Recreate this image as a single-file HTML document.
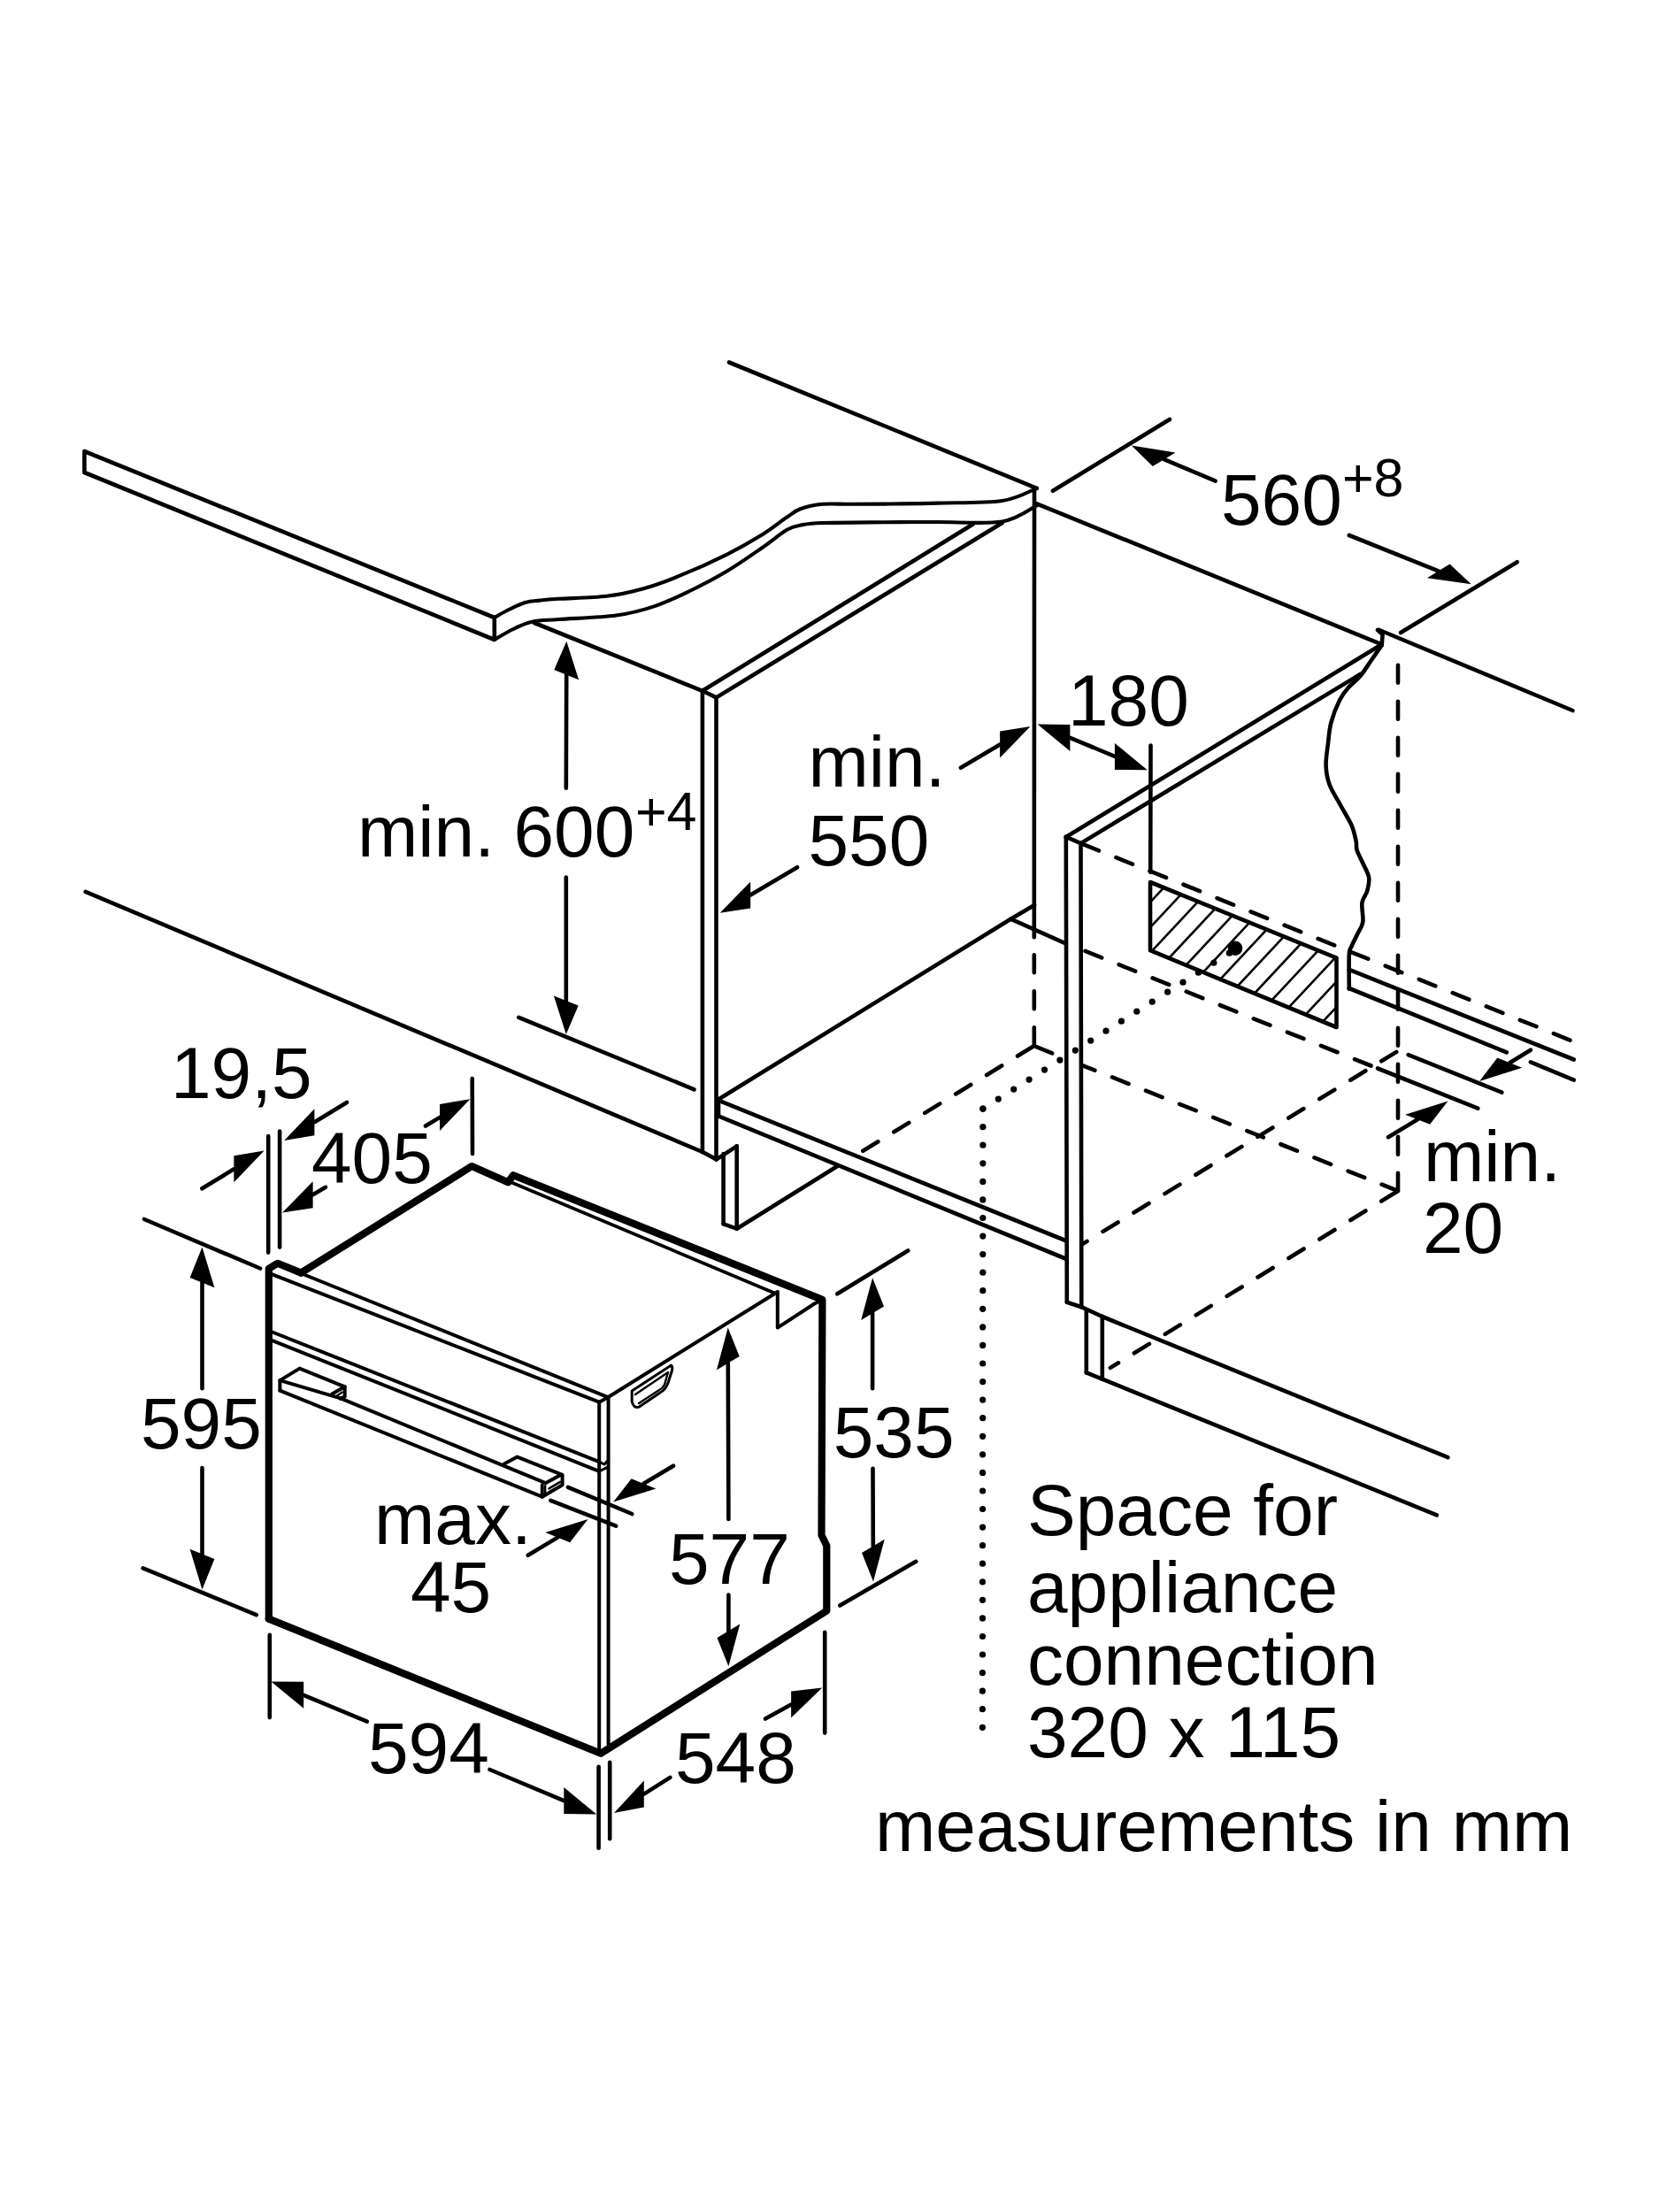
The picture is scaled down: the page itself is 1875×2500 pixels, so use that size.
<!DOCTYPE html>
<html><head><meta charset="utf-8"><style>
html,body{margin:0;padding:0;background:#fff;}
svg{display:block;}
svg text{font-family:"Liberation Sans",sans-serif;fill:#000;stroke:none;}
</style></head><body>
<svg width="1875" height="2500" viewBox="0 0 1875 2500">
<rect width="1875" height="2500" fill="#fff"/>
<g fill="none" stroke="#000" stroke-linecap="round" stroke-linejoin="round">
<polyline points="95.4,534 95.4,510 558.8,698 558.8,723 95.4,534" stroke-width="4.6" stroke-linejoin="round"/>
<path d="M558.8,698 C561.5,696.5 569.2,691.8 575,689 C580.8,686.2 587.6,682.7 593.4,681 C599.2,679.3 603.7,679.3 610,678.6 C616.3,677.9 618.8,677.6 631.4,676.8 C644,676 669.8,675.7 685.6,673.8 C701.4,671.9 712.7,669.3 726.3,665.5 C739.9,661.7 751.2,657.7 767,651.2 C782.8,644.8 805.4,634.7 821.2,626.8 C837,618.9 850.6,611 861.9,604 C873.2,597 881.8,589.6 889,584.8 C896.2,580 898.2,577.5 905,575 C911.8,572.5 920.5,570.7 929.7,569.8 C938.9,568.9 948.3,569.8 960,569.8 C971.7,569.8 983.3,569.8 1000,569.6 C1016.7,569.4 1037.9,569.2 1060,568.6 C1082.1,568 1114,568.8 1132.6,566 C1151.2,563.2 1165.3,554.2 1171.8,551.8" stroke-width="4.1" fill="none"/>
<path d="M558.8,723 C562.3,721 572.9,714.4 580,711 C587.1,707.6 592.9,704.5 601.5,702.7 C610.1,700.9 615.6,701.2 631.4,700 C647.2,698.8 678.4,698 696.5,695.5 C714.6,693 725.9,689.8 739.9,685.1 C753.9,680.4 767,674 780.5,667.5 C794,661 807.6,653.9 821.2,645.8 C834.8,637.7 850.6,626.5 861.9,618.7 C873.2,610.9 881.8,603.2 889,599 C896.2,594.8 898.2,594.8 905,593.5 C911.8,592.2 913.9,591.5 929.7,591 C945.5,590.5 978.3,590.4 1000,590.2 C1021.7,590 1037.9,590.1 1060,590 C1082.1,589.9 1114,592.6 1132.6,589.5 C1151.2,586.4 1165.3,574.4 1171.8,571.4" stroke-width="4.1" fill="none"/>
<line x1="824" y1="409.5" x2="1171.8" y2="551.8" stroke-width="4.6"/>
<line x1="1558.8" y1="712" x2="1777.4" y2="803" stroke-width="4.6"/>
<line x1="1171.8" y1="569.3" x2="1558.8" y2="727.1" stroke-width="4.6"/>
<polyline points="1556.9,712 1562.6,717 1561.7,729.2" stroke-width="4.6" stroke-linejoin="round"/>
<line x1="1169" y1="551.8" x2="1168.8" y2="1059.2" stroke-width="4.6"/>
<line x1="1168.8" y1="1059.2" x2="1168.8" y2="1182" stroke-width="4.6" stroke-dasharray="20 21" stroke-dashoffset="-20"/>
<line x1="793.9" y1="780.8" x2="793.9" y2="1302.3" stroke-width="4.6"/>
<line x1="809.5" y1="788.4" x2="809.5" y2="1310.4" stroke-width="4.6"/>
<line x1="793.9" y1="780.8" x2="809.5" y2="788.4" stroke-width="4.6"/>
<line x1="793.9" y1="780.8" x2="1099.5" y2="592.5" stroke-width="4.6"/>
<line x1="809.5" y1="788.4" x2="1132.6" y2="591" stroke-width="4.6"/>
<line x1="604" y1="704" x2="793.9" y2="780.8" stroke-width="4.6"/>
<polyline points="96.7,1007.9 794.1,1302 809.8,1310.4 832.7,1295.3" stroke-width="4.6" stroke-linejoin="round"/>
<line x1="817.6" y1="1304" x2="817.6" y2="1383.3" stroke-width="4.6"/>
<polyline points="832.7,1295.3 832.7,1388.7 817.6,1383.3" stroke-width="4.6" stroke-linejoin="round"/>
<line x1="832.7" y1="1388.7" x2="946" y2="1318.2" stroke-width="4.6"/>
<line x1="586.2" y1="1149.9" x2="784.5" y2="1231.3" stroke-width="4.6"/>
<polyline points="812,1242.5 1142.3,1038.7 1169,1023" stroke-width="4.6" stroke-linejoin="round"/>
<line x1="1142.3" y1="1038.7" x2="1204.5" y2="1066.4" stroke-width="4.6"/>
<line x1="812" y1="1243.7" x2="1205.4" y2="1402.5" stroke-width="4.6"/>
<line x1="812" y1="1261.4" x2="1205.4" y2="1423" stroke-width="4.6"/>
<line x1="812" y1="1242" x2="812" y2="1262" stroke-width="4.6"/>
<line x1="1204.8" y1="945.9" x2="1205.8" y2="1471.8" stroke-width="4.6"/>
<line x1="1221.5" y1="953.1" x2="1222.3" y2="1477.2" stroke-width="4.6"/>
<line x1="1204.8" y1="945.9" x2="1221.5" y2="953.1" stroke-width="4.6"/>
<line x1="1204.8" y1="946" x2="1558.8" y2="730" stroke-width="4.6"/>
<line x1="1221.5" y1="953.1" x2="1537.7" y2="761.8" stroke-width="4.6"/>
<line x1="1205.8" y1="1471.8" x2="1222.3" y2="1477.2" stroke-width="4.6"/>
<polyline points="1222.3,1477.2 1245.8,1488" stroke-width="4.6" stroke-linejoin="round"/>
<line x1="1227.8" y1="1480.8" x2="1227.8" y2="1551.4" stroke-width="4.6"/>
<line x1="1245.8" y1="1488" x2="1245.8" y2="1558.6" stroke-width="4.6"/>
<line x1="1227.8" y1="1551.4" x2="1245.8" y2="1558.6" stroke-width="4.6"/>
<line x1="1245.8" y1="1488" x2="1636.4" y2="1647.2" stroke-width="4.6"/>
<line x1="1245.8" y1="1558.6" x2="1623.8" y2="1712.3" stroke-width="4.6"/>
<path d="M1561.7,729.2 C1559.8,732 1554,740.2 1550,746 C1546,751.8 1541.7,758.9 1537.4,764.1 C1533.1,769.3 1527.9,772.5 1524,777 C1520.1,781.5 1517.4,784.7 1514.1,791.3 C1510.8,797.9 1506.6,808.5 1504.4,816.6 C1502.2,824.7 1502,831.9 1501,840 C1500,848.1 1498.3,857.4 1498.6,865.1 C1498.8,872.9 1499.8,879 1502.5,886.5 C1505.2,894 1510.8,902.2 1515,910 C1519.2,917.8 1524.8,926.3 1527.7,933.1 C1530.6,939.9 1531.6,946.1 1532.6,950.6 C1533.6,955.1 1532.3,956.2 1533.5,960.3 C1534.7,964.4 1537.7,969.8 1540,975 C1542.3,980.2 1546.2,986.1 1547.1,991.4 C1548,996.7 1546.5,1002.1 1545.2,1007 C1543.9,1011.9 1540.2,1014.8 1539.4,1020.6 C1538.6,1026.4 1541.2,1036.1 1540.3,1042 C1539.4,1047.9 1536.1,1051.5 1534,1056 C1531.9,1060.5 1529.2,1065.3 1527.7,1069.1 C1526.2,1072.9 1525.3,1070.8 1524.8,1078.9 C1524.3,1087 1524.8,1111.2 1524.8,1117.7" stroke-width="4.6" fill="none"/>
<line x1="1524.8" y1="1095.9" x2="1778.8" y2="1197.5" stroke-width="4.6"/>
<line x1="1524.8" y1="1117" x2="1702.8" y2="1189.4" stroke-width="4.6"/>
<line x1="1729.9" y1="1200.3" x2="1778.8" y2="1220.7" stroke-width="4.6"/>
<line x1="1221.5" y1="953.1" x2="1775.1" y2="1175.8" stroke-width="4.6" stroke-dasharray="20 21" stroke-dashoffset="-2"/>
<line x1="1224.7" y1="1074.2" x2="1557" y2="1207.5" stroke-width="4.6" stroke-dasharray="20 21" stroke-dashoffset="-2"/>
<line x1="1557" y1="1207.5" x2="1670.3" y2="1252.7" stroke-width="4.6"/>
<line x1="1591.6" y1="1192.1" x2="1697.4" y2="1234.6" stroke-width="4.6"/>
<line x1="1580" y1="749.7" x2="1580" y2="1346" stroke-width="4.6" stroke-dasharray="20 21" stroke-dashoffset="-2"/>
<line x1="1168.8" y1="1182" x2="975" y2="1301" stroke-width="4.6" stroke-dasharray="20 21" stroke-dashoffset="-2"/>
<line x1="1168.8" y1="1182" x2="1205" y2="1196.8" stroke-width="4.6" stroke-dasharray="20 21" stroke-dashoffset="-2"/>
<line x1="1222.5" y1="1203.8" x2="1580" y2="1346" stroke-width="4.6" stroke-dasharray="20 21" stroke-dashoffset="4"/>
<line x1="1580" y1="1346" x2="1254.9" y2="1545.9" stroke-width="4.6" stroke-dasharray="20 21" stroke-dashoffset="-2"/>
<line x1="1580" y1="1187.8" x2="1222.3" y2="1406.7" stroke-width="4.6" stroke-dasharray="20 21" stroke-dashoffset="-2"/>
<line x1="1300.5" y1="842.6" x2="1300.2" y2="985.7" stroke-width="4.6"/>
<polygon points="1300,997 1510.5,1082.6 1510.5,1161 1300,1074.2" stroke-width="4.6" stroke-linejoin="round"/>
<clipPath id="hb"><polygon points="1300,997 1510.5,1082.6 1510.5,1161 1300,1074.2"/></clipPath>
<path d="M1106.0,1083.9 L1326.0,848.5 M1125.4,1091.8 L1345.4,856.4 M1144.8,1099.7 L1364.8,864.3 M1164.2,1107.6 L1384.2,872.2 M1183.6,1115.5 L1403.6,880.1 M1203.0,1123.4 L1423.0,888.0 M1222.4,1131.2 L1442.4,895.8 M1241.8,1139.1 L1461.8,903.7 M1261.2,1147.0 L1481.2,911.6 M1280.6,1154.9 L1500.6,919.5 M1300.0,1162.8 L1520.0,927.4 M1319.4,1170.7 L1539.4,935.3 M1338.8,1178.6 L1558.8,943.2 M1358.2,1186.5 L1578.2,951.1 M1377.6,1194.4 L1597.6,959.0 M1397.0,1202.3 L1617.0,966.9 M1416.4,1210.1 L1636.4,974.7 M1435.8,1218.0 L1655.8,982.6 M1455.2,1225.9 L1675.2,990.5 M1474.6,1233.8 L1694.6,998.4" stroke-width="2.6" clip-path="url(#hb)"/>
<circle cx="1396.1" cy="1071.8" r="8.2" fill="#000" stroke="none"/>
<circle cx="1389.5" cy="1077" r="3.8" fill="#000" stroke="none"/>
<circle cx="1371.8" cy="1088.2" r="3.6" fill="#000" stroke="none"/>
<circle cx="1354.4" cy="1099.2" r="3.6" fill="#000" stroke="none"/>
<circle cx="1337" cy="1110.2" r="3.6" fill="#000" stroke="none"/>
<circle cx="1319.6" cy="1121.2" r="3.6" fill="#000" stroke="none"/>
<circle cx="1302.2" cy="1132.2" r="3.6" fill="#000" stroke="none"/>
<circle cx="1284.8" cy="1143.2" r="3.6" fill="#000" stroke="none"/>
<circle cx="1267.4" cy="1154.2" r="3.6" fill="#000" stroke="none"/>
<circle cx="1250" cy="1165.2" r="3.6" fill="#000" stroke="none"/>
<circle cx="1232.7" cy="1176.1" r="3.6" fill="#000" stroke="none"/>
<circle cx="1215.3" cy="1187.1" r="3.6" fill="#000" stroke="none"/>
<circle cx="1197.9" cy="1198.1" r="3.6" fill="#000" stroke="none"/>
<circle cx="1180.5" cy="1209.1" r="3.6" fill="#000" stroke="none"/>
<circle cx="1163.1" cy="1220.1" r="3.6" fill="#000" stroke="none"/>
<circle cx="1145.7" cy="1231.1" r="3.6" fill="#000" stroke="none"/>
<circle cx="1128.3" cy="1242.1" r="3.6" fill="#000" stroke="none"/>
<circle cx="1110.9" cy="1253.1" r="3.6" fill="#000" stroke="none"/>
<circle cx="1110.9" cy="1253.1" r="3.6" fill="#000" stroke="none"/>
<circle cx="1110.9" cy="1273.7" r="3.6" fill="#000" stroke="none"/>
<circle cx="1110.9" cy="1294.2" r="3.6" fill="#000" stroke="none"/>
<circle cx="1110.9" cy="1314.8" r="3.6" fill="#000" stroke="none"/>
<circle cx="1110.8" cy="1335.4" r="3.6" fill="#000" stroke="none"/>
<circle cx="1110.8" cy="1355.9" r="3.6" fill="#000" stroke="none"/>
<circle cx="1110.8" cy="1376.5" r="3.6" fill="#000" stroke="none"/>
<circle cx="1110.8" cy="1397.1" r="3.6" fill="#000" stroke="none"/>
<circle cx="1110.8" cy="1417.6" r="3.6" fill="#000" stroke="none"/>
<circle cx="1110.8" cy="1438.2" r="3.6" fill="#000" stroke="none"/>
<circle cx="1110.8" cy="1458.7" r="3.6" fill="#000" stroke="none"/>
<circle cx="1110.7" cy="1479.3" r="3.6" fill="#000" stroke="none"/>
<circle cx="1110.7" cy="1499.9" r="3.6" fill="#000" stroke="none"/>
<circle cx="1110.7" cy="1520.4" r="3.6" fill="#000" stroke="none"/>
<circle cx="1110.7" cy="1541" r="3.6" fill="#000" stroke="none"/>
<circle cx="1110.7" cy="1561.6" r="3.6" fill="#000" stroke="none"/>
<circle cx="1110.7" cy="1582.1" r="3.6" fill="#000" stroke="none"/>
<circle cx="1110.7" cy="1602.7" r="3.6" fill="#000" stroke="none"/>
<circle cx="1110.6" cy="1623.3" r="3.6" fill="#000" stroke="none"/>
<circle cx="1110.6" cy="1643.8" r="3.6" fill="#000" stroke="none"/>
<circle cx="1110.6" cy="1664.4" r="3.6" fill="#000" stroke="none"/>
<circle cx="1110.6" cy="1685" r="3.6" fill="#000" stroke="none"/>
<circle cx="1110.6" cy="1705.5" r="3.6" fill="#000" stroke="none"/>
<circle cx="1110.6" cy="1726.1" r="3.6" fill="#000" stroke="none"/>
<circle cx="1110.5" cy="1746.7" r="3.6" fill="#000" stroke="none"/>
<circle cx="1110.5" cy="1767.2" r="3.6" fill="#000" stroke="none"/>
<circle cx="1110.5" cy="1787.8" r="3.6" fill="#000" stroke="none"/>
<circle cx="1110.5" cy="1808.3" r="3.6" fill="#000" stroke="none"/>
<circle cx="1110.5" cy="1828.9" r="3.6" fill="#000" stroke="none"/>
<circle cx="1110.5" cy="1849.5" r="3.6" fill="#000" stroke="none"/>
<circle cx="1110.5" cy="1870" r="3.6" fill="#000" stroke="none"/>
<circle cx="1110.4" cy="1890.6" r="3.6" fill="#000" stroke="none"/>
<circle cx="1110.4" cy="1911.2" r="3.6" fill="#000" stroke="none"/>
<circle cx="1110.4" cy="1931.7" r="3.6" fill="#000" stroke="none"/>
<circle cx="1110.4" cy="1952.3" r="3.6" fill="#000" stroke="none"/>
<line x1="1189.9" y1="554.8" x2="1321.9" y2="474" stroke-width="4.6"/>
<line x1="1583" y1="715" x2="1714.7" y2="635.2" stroke-width="4.6"/>
<line x1="1373.7" y1="543.7" x2="1315.6" y2="519.2" stroke-width="4.6"/>
<polygon points="1278.8,503.6 1328.5,511.4 1302.8,527" fill="#000" stroke="none"/>
<line x1="1524.8" y1="605" x2="1625.7" y2="645.3" stroke-width="4.6"/>
<polygon points="1662.8,660.2 1638.5,637.5 1612.9,653.2" fill="#000" stroke="none"/>
<line x1="1235" y1="844.5" x2="1209.4" y2="833.9" stroke-width="4.6"/>
<polygon points="1172.5,818.5 1209.4,848.9 1209.4,818.9" fill="#000" stroke="none"/>
<line x1="1235" y1="844.5" x2="1259.9" y2="854.9" stroke-width="4.6"/>
<polygon points="1296.8,870.3 1259.9,869.9 1259.9,839.9" fill="#000" stroke="none"/>
<line x1="1085.8" y1="867.7" x2="1130.1" y2="841.4" stroke-width="4.6"/>
<polygon points="1164.5,821 1130.1,856.4 1130.1,826.4" fill="#000" stroke="none"/>
<line x1="901.1" y1="980.2" x2="848.2" y2="1011.4" stroke-width="4.6"/>
<polygon points="813.7,1031.7 848.2,1026.4 848.2,996.4" fill="#000" stroke="none"/>
<line x1="639.8" y1="890.7" x2="640.2" y2="762.7" stroke-width="4.6"/>
<polygon points="640.3,724.7 654.1,768.3 626.3,757.1" fill="#000" stroke="none"/>
<line x1="639.8" y1="991.6" x2="639.8" y2="1131" stroke-width="4.6"/>
<polygon points="639.8,1169 653.7,1136.6 625.9,1125.4" fill="#000" stroke="none"/>
<line x1="1729.9" y1="1186.7" x2="1706.2" y2="1201.2" stroke-width="4.6"/>
<polygon points="1672.1,1222 1720.2,1206.7 1692.3,1195.6" fill="#000" stroke="none"/>
<line x1="1569" y1="1285.2" x2="1602.1" y2="1265.2" stroke-width="4.6"/>
<polygon points="1636.4,1244.6 1616.1,1270.8 1588.2,1259.7" fill="#000" stroke="none"/>
<polyline points="303.8,1829.6 303.8,1433.8 313.8,1427.8 340.3,1438.6" stroke-width="8.2" stroke-linejoin="round"/>
<polyline points="340.3,1438.6 533.2,1318.1 574.2,1336.2 580.1,1328.2 929.4,1468.9 928.5,1735 934.3,1747.1 934.3,1820.6 679,1981.8 303.8,1829.6" stroke-width="8.2" stroke-linejoin="round"/>
<line x1="577.8" y1="1336.2" x2="876.1" y2="1461.7" stroke-width="3.8"/>
<polyline points="687.1,1579.2 876.1,1461.7 878.8,1459.9 878.8,1500.6 920.4,1473.5 929.4,1468.9" stroke-width="4" stroke-linejoin="round"/>
<line x1="677.2" y1="1584.7" x2="677.2" y2="1981.8" stroke-width="4"/>
<line x1="687.6" y1="1579.2" x2="687.6" y2="1971.3" stroke-width="4"/>
<line x1="313.8" y1="1428.5" x2="687.1" y2="1579.2" stroke-width="4"/>
<line x1="306.5" y1="1439.8" x2="677.2" y2="1584.7" stroke-width="4"/>
<polyline points="677.2,1584.7 687.1,1579.2" stroke-width="4" stroke-linejoin="round"/>
<line x1="306.5" y1="1505" x2="677.2" y2="1652.2" stroke-width="4"/>
<line x1="306.5" y1="1514.6" x2="677.2" y2="1662.8" stroke-width="4"/>
<polyline points="677.2,1652.2 683,1655 687.6,1650" stroke-width="3" stroke-linejoin="round"/>
<polyline points="677.2,1662.8 683,1660 687.6,1658" stroke-width="3" stroke-linejoin="round"/>
<polyline points="316.4,1571.6 316.4,1560.1 338.6,1546.6 389.7,1567.3 389.7,1578.4 384.9,1580.8" stroke-width="4" stroke-linejoin="round"/>
<polyline points="316.4,1560.1 384.9,1580.3 615.4,1675.7" stroke-width="4" stroke-linejoin="round"/>
<line x1="316.4" y1="1571.6" x2="612.8" y2="1691.7" stroke-width="4"/>
<line x1="375.2" y1="1575.5" x2="389.7" y2="1567.3" stroke-width="4"/>
<line x1="380" y1="1577.9" x2="386.8" y2="1573.6" stroke-width="2.4"/>
<polyline points="569.8,1654.6 584.6,1646.6 635.6,1666.8 635.6,1678.2 612.8,1691.7 612.8,1678.2" stroke-width="4" stroke-linejoin="round"/>
<line x1="617" y1="1676.1" x2="633.1" y2="1667.3" stroke-width="4"/>
<line x1="616.2" y1="1679.1" x2="616.2" y2="1687.5" stroke-width="2.4"/>
<line x1="620.4" y1="1682.4" x2="633.1" y2="1674.9" stroke-width="2.4"/>
<path d="M714.2,1572 L758.6,1543.1 Q760.5,1545 759.5,1549 L755,1563 Q752,1571 746,1574 L722.4,1590.1 Q716,1592 714.2,1584 Z" stroke-width="3" fill="none"/>
<path d="M718,1576 L755,1551 L751,1565 Q749,1569 745,1571 L722,1586" stroke-width="2.4" fill="none"/>
<line x1="303.2" y1="1284" x2="303.2" y2="1415.6" stroke-width="4.6"/>
<line x1="316.1" y1="1278.5" x2="316.1" y2="1409.6" stroke-width="4.6"/>
<line x1="533.7" y1="1219" x2="534" y2="1304" stroke-width="4.6"/>
<line x1="228.4" y1="1343.3" x2="264.4" y2="1321.3" stroke-width="4.6"/>
<polygon points="298.6,1300.5 264.4,1336.3 264.4,1306.3" fill="#000" stroke="none"/>
<line x1="392" y1="1246" x2="355.4" y2="1268.2" stroke-width="4.6"/>
<polygon points="321.2,1289 355.4,1283.2 355.4,1253.2" fill="#000" stroke="none"/>
<line x1="368" y1="1341.8" x2="353.6" y2="1350.2" stroke-width="4.6"/>
<polygon points="319.1,1370.4 353.6,1365.2 353.6,1335.2" fill="#000" stroke="none"/>
<line x1="481" y1="1272.5" x2="497" y2="1262.9" stroke-width="4.6"/>
<polygon points="531.3,1242.3 497,1277.9 497,1247.9" fill="#000" stroke="none"/>
<line x1="163" y1="1378" x2="294" y2="1433.5" stroke-width="4.6"/>
<line x1="161.6" y1="1772.3" x2="289.7" y2="1825.1" stroke-width="4.6"/>
<line x1="228.5" y1="1569.3" x2="228.5" y2="1449.6" stroke-width="4.6"/>
<polygon points="228.5,1409.6 242.4,1455.2 214.6,1444" fill="#000" stroke="none"/>
<line x1="228.5" y1="1659.1" x2="228.5" y2="1756.4" stroke-width="4.6"/>
<polygon points="228.5,1796.4 242.4,1762 214.6,1750.8" fill="#000" stroke="none"/>
<line x1="304.8" y1="1847.7" x2="304.8" y2="1941.1" stroke-width="4.6"/>
<line x1="414.8" y1="1945.6" x2="343.2" y2="1915.8" stroke-width="4.6"/>
<polygon points="306.3,1900.4 343.2,1930.8 343.2,1900.8" fill="#000" stroke="none"/>
<line x1="553.5" y1="2000" x2="637.3" y2="2035.1" stroke-width="4.6"/>
<polygon points="674.2,2050.5 637.3,2050.1 637.3,2020.1" fill="#000" stroke="none"/>
<line x1="676.6" y1="1996.9" x2="676.6" y2="2088.8" stroke-width="4.6"/>
<line x1="689.2" y1="1991.7" x2="689.2" y2="2078.2" stroke-width="4.6"/>
<line x1="757.4" y1="2008.9" x2="727.8" y2="2027.6" stroke-width="4.6"/>
<polygon points="694,2049 727.8,2042.6 727.8,2012.6" fill="#000" stroke="none"/>
<line x1="865" y1="1942.6" x2="894.1" y2="1926.6" stroke-width="4.6"/>
<polygon points="929.2,1907.4 894.1,1941.6 894.1,1911.6" fill="#000" stroke="none"/>
<line x1="932.2" y1="1844.7" x2="932.2" y2="1958.6" stroke-width="4.6"/>
<line x1="823.4" y1="1717" x2="822.8" y2="1540.6" stroke-width="4.6"/>
<polygon points="822.7,1500.6 835.7,1532.9 810,1548.3" fill="#000" stroke="none"/>
<line x1="823.4" y1="1802.5" x2="823.4" y2="1843.2" stroke-width="4.6"/>
<polygon points="823.4,1883.2 836.3,1835.5 810.5,1850.9" fill="#000" stroke="none"/>
<line x1="946.3" y1="1462.3" x2="1026.2" y2="1413.5" stroke-width="4.6"/>
<line x1="949.3" y1="1814.5" x2="1035.2" y2="1764.8" stroke-width="4.6"/>
<line x1="986.1" y1="1569.3" x2="986.1" y2="1484.3" stroke-width="4.6"/>
<polygon points="986.1,1444.3 999,1476.6 973.2,1492" fill="#000" stroke="none"/>
<line x1="986.5" y1="1659.7" x2="986.8" y2="1747.4" stroke-width="4.6"/>
<polygon points="987,1787.4 999.7,1739.7 974,1755.1" fill="#000" stroke="none"/>
<line x1="641.9" y1="1680.8" x2="714.3" y2="1711" stroke-width="4.6"/>
<line x1="622.3" y1="1695.9" x2="696.2" y2="1724.6" stroke-width="4.6"/>
<line x1="761" y1="1656.7" x2="727.5" y2="1676.8" stroke-width="4.6"/>
<polygon points="693.2,1697.4 741.4,1682.4 713.6,1671.2" fill="#000" stroke="none"/>
<line x1="596.7" y1="1757.7" x2="630.2" y2="1737.6" stroke-width="4.6"/>
<polygon points="664.5,1717 644.1,1743.2 616.3,1732" fill="#000" stroke="none"/>
<text x="404" y="968" font-size="82" text-anchor="start">min.</text>
<text x="580.5" y="968" font-size="82" text-anchor="start">600</text>
<text x="718" y="937.5" font-size="61" text-anchor="start">+4</text>
<text x="913.5" y="888.5" font-size="82" text-anchor="start">min.</text>
<text x="913.5" y="977.5" font-size="82" text-anchor="start">550</text>
<text x="1207" y="820" font-size="82" text-anchor="start">180</text>
<text x="1380" y="593" font-size="82" text-anchor="start">560</text>
<text x="1517" y="561" font-size="61" text-anchor="start">+8</text>
<text x="193" y="1240.5" font-size="82" text-anchor="start">19,5</text>
<text x="352" y="1337" font-size="82" text-anchor="start">405</text>
<text x="159" y="1636.5" font-size="82" text-anchor="start">595</text>
<text x="423" y="1745" font-size="82" text-anchor="start">max.</text>
<text x="464" y="1821.5" font-size="82" text-anchor="start">45</text>
<text x="756" y="1790" font-size="82" text-anchor="start">577</text>
<text x="941.7" y="1647" font-size="82" text-anchor="start">535</text>
<text x="416" y="2004" font-size="82" text-anchor="start">594</text>
<text x="763" y="2014.5" font-size="82" text-anchor="start">548</text>
<text x="1609" y="1334.5" font-size="82" text-anchor="start">min.</text>
<text x="1608" y="1416" font-size="82" text-anchor="start">20</text>
<text x="1161" y="1734.5" font-size="82" text-anchor="start">Space for</text>
<text x="1161" y="1821.5" font-size="82" text-anchor="start">appliance</text>
<text x="1161" y="1903.5" font-size="82" text-anchor="start">connection</text>
<text x="1161" y="1985.5" font-size="82" text-anchor="start">320 x 115</text>
<text x="989" y="2091.5" font-size="82" text-anchor="start">measurements in mm</text>
</g>
</svg>
</body></html>
